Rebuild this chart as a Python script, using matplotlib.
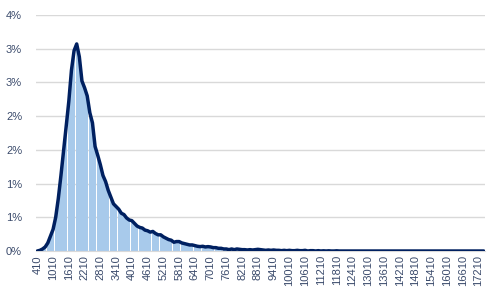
import matplotlib
matplotlib.use("Agg")
import matplotlib.pyplot as plt
from matplotlib.ticker import FixedLocator

# Bin labels (lower bound of each 100-wide bin)
categories = list(range(410, 17411, 100))

share_pct = [
    0.00, 0.01, 0.03, 0.06, 0.12, 0.22, 0.32, 0.50, 0.78, 1.12,
    1.48, 1.85, 2.22, 2.68, 2.97, 3.07, 2.88, 2.52, 2.42, 2.30,
    2.05, 1.90, 1.55, 1.42, 1.28, 1.12, 1.03, 0.90, 0.80, 0.70,
    0.66, 0.62, 0.56, 0.54, 0.49, 0.46, 0.45, 0.41, 0.37, 0.35,
    0.34, 0.31, 0.30, 0.28, 0.29, 0.26, 0.24, 0.24, 0.21, 0.19,
    0.17, 0.16, 0.13, 0.14, 0.14, 0.12, 0.11, 0.10, 0.09, 0.09,
    0.08, 0.07, 0.065, 0.07, 0.06, 0.065, 0.06, 0.05, 0.05, 0.04,
    0.04, 0.03, 0.03, 0.02, 0.03, 0.02, 0.03, 0.025, 0.02, 0.02,
    0.015, 0.02, 0.015, 0.02, 0.025, 0.02, 0.015, 0.01, 0.015, 0.01,
    0.015, 0.01, 0.01, 0.005, 0.01, 0.005, 0.01, 0.005, 0.005, 0.01,
    0.005, 0.005, 0.01, 0.0, 0.005, 0.005, 0.0, 0.005, 0.0, 0.003,
    0.0, 0.003, 0.0, 0.0, 0.003, 0.0, 0.0, 0.0, 0.0, 0.0,
    0.0, 0.0, 0.0, 0.0, 0.0, 0.0, 0.0, 0.0, 0.0, 0.0,
    0.0, 0.0, 0.0, 0.0, 0.0, 0.0, 0.0, 0.0, 0.0, 0.0,
    0.0, 0.0, 0.0, 0.0, 0.0, 0.0, 0.0, 0.0, 0.0, 0.0,
    0.0, 0.0, 0.0, 0.0, 0.0, 0.0, 0.0, 0.0, 0.0, 0.0,
    0.0, 0.0, 0.0, 0.0, 0.0, 0.0, 0.0, 0.0, 0.0, 0.0,
    0.0,
]

y_ticks = [0.0, 0.5, 1.0, 1.5, 2.0, 2.5, 3.0, 3.5]
y_tick_labels = ["0%", "1%", "1%", "2%", "2%", "3%", "3%", "4%"]
label_step = 6

n = min(len(categories), len(share_pct))
categories = categories[:n]
share_pct = share_pct[:n]
pos = list(range(n))

fig = plt.figure(figsize=(5.0, 2.99), dpi=100)
ax = fig.add_axes([0.072, 0.1605, 0.898, 0.7895])

text_color = "#3A4A6B"
ax.bar(pos, share_pct, width=0.9, color="#A8CAEB", edgecolor="none", zorder=2)
ax.plot(pos, share_pct, color="#002060", linewidth=2.5, solid_joinstyle="round",
        solid_capstyle="round", zorder=3)

ax.set_xlim(-0.5, n - 0.5)
ax.set_ylim(0, 3.5)
ax.yaxis.set_major_locator(FixedLocator(y_ticks))
ax.set_yticklabels(y_tick_labels, fontsize=8, color=text_color, family="Liberation Sans")
ax.grid(axis="y", color="#D9D9D9", linewidth=1.0, zorder=0)
ax.set_axisbelow(True)

ax.set_xticks(pos[::label_step])
ax.set_xticklabels([str(c) for c in categories[::label_step]], rotation=90,
                   fontsize=8, color=text_color, family="Liberation Sans")
ax.tick_params(axis="x", length=0, pad=3)
ax.tick_params(axis="y", length=0, pad=10)

for s in ["top", "right", "left"]:
    ax.spines[s].set_visible(False)
ax.spines["bottom"].set_color("#D9D9D9")

fig.savefig("out.png", dpi=100)
